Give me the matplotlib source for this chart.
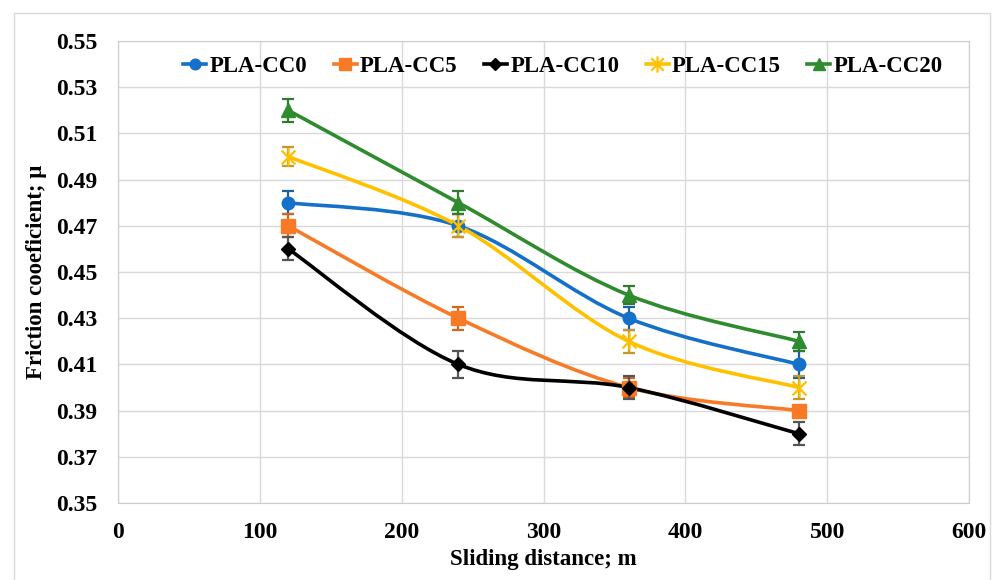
import numpy as np
import matplotlib.pyplot as plt
from matplotlib.path import Path
from matplotlib.patches import PathPatch, Rectangle

plt.rcParams['font.family'] = ['Liberation Serif', 'DejaVu Serif']
plt.rcParams['font.weight'] = 'bold'

# data
distance = [120, 240, 360, 480]
names = ['PLA-CC0', 'PLA-CC5', 'PLA-CC10', 'PLA-CC15', 'PLA-CC20']
cc0 = [0.48, 0.47, 0.43, 0.41]
cc5 = [0.47, 0.43, 0.40, 0.39]
cc10 = [0.46, 0.41, 0.40, 0.38]
cc15 = [0.50, 0.47, 0.42, 0.40]
cc20 = [0.52, 0.48, 0.44, 0.42]
err0 = [0.005, 0.005, 0.005, 0.006]
err5 = [0.005, 0.005, 0.004, 0.002]
err10 = [0.005, 0.006, 0.005, 0.005]
err15 = [0.004, 0.005, 0.005, 0.005]
err20 = [0.005, 0.005, 0.004, 0.004]

series = [cc0, cc5, cc10, cc15, cc20]
errors = [err0, err5, err10, err15, err20]
colors = ['#1470C8', '#F97A26', '#000000', '#FFC000', '#2E8B2E']
ecolors = ['#1A5FA8', '#D8661A', '#555555', '#C8962A', '#2E7A2E']

# excel-like star marker (x with a vertical bar)
star = Path([(-1, -1), (1, 1), (-1, 1), (1, -1), (0, -1.3), (0, 1.3)],
            [Path.MOVETO, Path.LINETO] * 3)
markers = ['o', 's', 'D', star, '^']
msizes = [9, 10, 7, 13, 10]


def smooth_path(x, y):
    # bezier segments like excel "smoothed line"
    pts = np.column_stack([x, y]).astype(float)
    ext = np.vstack([pts[0], pts, pts[-1]])
    verts = [pts[0]]
    codes = [Path.MOVETO]
    for i in range(len(pts) - 1):
        p0, p1, p2, p3 = ext[i], ext[i + 1], ext[i + 2], ext[i + 3]
        verts += [p1 + (p2 - p0) / 6, p2 - (p3 - p1) / 6, p2]
        codes += [Path.CURVE4] * 3
    return Path(verts, codes)


fig = plt.figure(figsize=(9.92, 5.8), dpi=100)
ax = fig.add_axes([118 / 992, 1 - 503 / 580, 851 / 992, 462 / 580])

fig.patches.append(Rectangle((14 / 992, -0.01), 976 / 992, 1 - 13 / 580 + 0.01,
                             transform=fig.transFigure, fill=False,
                             edgecolor='#D9D9D9', lw=1))

for vals, err, c, ec, m, ms in zip(series, errors, colors, ecolors,
                                   markers, msizes):
    ax.add_patch(PathPatch(smooth_path(distance, vals), fill=False,
                           edgecolor=c, lw=2.6, zorder=3))
    ax.errorbar(distance, vals, yerr=err, fmt='none', ecolor=ec,
                elinewidth=1.6, capsize=4, capthick=1.6, zorder=4)
    if m is star:
        ax.plot(distance, vals, ls='none', marker=m, ms=ms,
                mec=c, mew=1.6, zorder=5)
    else:
        ax.plot(distance, vals, ls='none', marker=m, ms=ms,
                mfc=c, mec=c, zorder=5)

# legend proxies with line + marker
leg_lines = []
for c, m, ms in zip(colors, markers, msizes):
    if m is star:
        l, = ax.plot([], [], color=c, lw=2.6, marker=m, ms=ms * 0.9, mec=c, mew=1.6)
    else:
        l, = ax.plot([], [], color=c, lw=2.6, marker=m, ms=ms * 0.85, mfc=c, mec=c)
    leg_lines.append(l)
ax.legend(leg_lines, names, loc='upper center', bbox_to_anchor=(0.523, 1.012),
          ncol=5, frameon=False, handlelength=1.0, handletextpad=0.15,
          columnspacing=1.15, prop={'weight': 'bold', 'size': 16.5})

ax.set_xlim(0, 600)
ax.set_ylim(0.35, 0.55)
ax.set_xticks(np.arange(0, 601, 100))
ax.set_yticks(np.arange(0.35, 0.5501, 0.02))
ax.set_yticklabels([f'{v:.2f}' for v in np.arange(0.35, 0.5501, 0.02)])
ax.tick_params(length=0, labelsize=17)
ax.tick_params(axis='x', pad=14)
ax.tick_params(axis='y', pad=15)
ax.grid(True, color='#D9D9D9', lw=1)
ax.set_axisbelow(True)
for s in ax.spines.values():
    s.set_color('#CCCCCC')

ax.set_xlabel('Sliding distance; m', fontsize=16.5, fontweight='bold', labelpad=4)
ax.set_ylabel('Friction cooeficient; μ', fontsize=16.5, fontweight='bold')
ax.yaxis.set_label_coords(-0.083, 0.5)

fig.savefig('out.png', dpi=100)
